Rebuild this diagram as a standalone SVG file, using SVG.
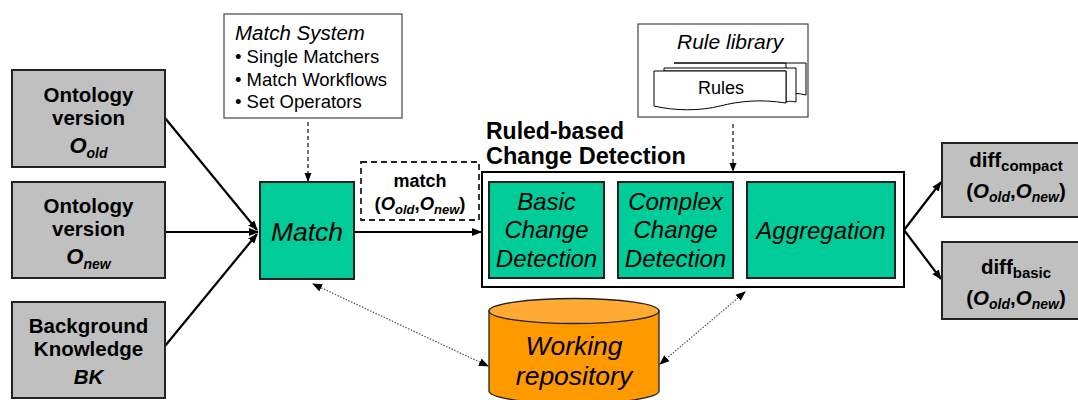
<svg xmlns="http://www.w3.org/2000/svg" width="1078" height="400" viewBox="0 0 1078 400">
<defs>
<style>
.gray{fill:#c0c0c0;stroke:#222;stroke-width:2}
.teal{fill:#00cc99;stroke:#222;stroke-width:2}
.wbox{fill:#fff;stroke:#444;stroke-width:1.2}
.t{font-family:"Liberation Sans",Arial,sans-serif;fill:#000}
.b{font-weight:bold}
.i{font-style:italic}
.line{stroke:#000;stroke-width:2.2;fill:none}
.dash{stroke:#222;stroke-width:1.3;stroke-dasharray:4 3;fill:none}
.dot{stroke:#555;stroke-width:1.2;stroke-dasharray:1.5 1.5;fill:none}
</style>
<marker id="ah" markerUnits="userSpaceOnUse" markerWidth="10" markerHeight="10" refX="9" refY="5" orient="auto"><path d="M0,1 L10,5 L0,9 z" fill="#000"/></marker>
<marker id="ahs" markerUnits="userSpaceOnUse" markerWidth="9" markerHeight="9" refX="8" refY="4.5" orient="auto"><path d="M0,1 L9,4.5 L0,8 z" fill="#000"/></marker>
<marker id="ahd" markerUnits="userSpaceOnUse" markerWidth="10" markerHeight="10" refX="9" refY="5" orient="auto-start-reverse"><path d="M0,1 L10,5 L0,9 z" fill="#000"/></marker>
</defs>

<g id="connectors">
<line class="line" x1="165" y1="118" x2="257" y2="230" marker-end="url(#ah)"/>
<line class="line" x1="165" y1="232" x2="258" y2="232" marker-end="url(#ah)"/>
<line class="line" x1="165" y1="346" x2="257" y2="234" marker-end="url(#ah)"/>
<line class="line" x1="354" y1="232" x2="481" y2="232" marker-end="url(#ah)"/>
<line class="line" x1="604" y1="232" x2="617" y2="232" stroke-width="1.5" marker-end="url(#ahs)"/>
<line class="line" x1="733" y1="232" x2="746" y2="232" stroke-width="1.5" marker-end="url(#ahs)"/>
<line class="line" x1="904" y1="230" x2="941" y2="182" marker-end="url(#ah)"/>
<line class="line" x1="904" y1="230" x2="941" y2="279" marker-end="url(#ah)"/>
<line class="dash" x1="308" y1="122" x2="308" y2="181" marker-end="url(#ahs)"/>
<line class="dash" x1="733" y1="124" x2="733" y2="171" marker-end="url(#ahs)"/>
<line class="dot" x1="313" y1="284" x2="488" y2="366" marker-start="url(#ahd)" marker-end="url(#ahd)"/>
<line class="dot" x1="745" y1="292" x2="660" y2="364" marker-start="url(#ahd)" marker-end="url(#ahd)"/>
</g>

<g id="ontology-old">
<rect class="gray" x="12" y="70" width="153" height="97"/>
<text class="t b" x="88.5" y="102" font-size="20.5" text-anchor="middle">Ontology</text>
<text class="t b" x="88.5" y="125" font-size="20.5" text-anchor="middle">version</text>
<text class="t b i" x="88.5" y="153" font-size="22" text-anchor="middle">O<tspan font-size="14" dy="5">old</tspan></text>
</g>

<g id="ontology-new">
<rect class="gray" x="12" y="182" width="153" height="96"/>
<text class="t b" x="88.5" y="213" font-size="20.5" text-anchor="middle">Ontology</text>
<text class="t b" x="88.5" y="236" font-size="20.5" text-anchor="middle">version</text>
<text class="t b i" x="88.5" y="264" font-size="22" text-anchor="middle">O<tspan font-size="14" dy="5">new</tspan></text>
</g>

<g id="background-knowledge">
<rect class="gray" x="12" y="302" width="153" height="96"/>
<text class="t b" x="88.5" y="333" font-size="20.5" text-anchor="middle">Background</text>
<text class="t b" x="88.5" y="356" font-size="20.5" text-anchor="middle">Knowledge</text>
<text class="t b i" x="88.5" y="384" font-size="20.5" text-anchor="middle">BK</text>
</g>

<g id="match-system">
<rect class="wbox" x="224" y="14" width="178" height="104"/>
<text class="t i" x="235" y="40" font-size="20.5">Match System</text>
<text class="t" x="235" y="63" font-size="18.5">• Single Matchers</text>
<text class="t" x="235" y="86" font-size="18.5">• Match Workflows</text>
<text class="t" x="235" y="108" font-size="18.5">• Set Operators</text>
</g>

<g id="match">
<rect class="teal" x="260" y="182" width="94" height="97"/>
<text class="t i" x="307" y="241" font-size="26.5" text-anchor="middle">Match</text>
</g>

<g id="match-result">
<rect x="361" y="162" width="118" height="58" fill="none" stroke="#222" stroke-width="1.8" stroke-dasharray="6 4"/>
<text class="t b" x="420" y="187" font-size="18" text-anchor="middle">match</text>
<text class="t b" x="420" y="210" font-size="18.5" text-anchor="middle">(<tspan class="i">O</tspan><tspan class="i" font-size="13" dy="4">old</tspan><tspan dy="-4">,</tspan><tspan class="i">O</tspan><tspan class="i" font-size="13" dy="4">new</tspan><tspan dy="-4">)</tspan></text>
</g>

<g id="rule-library">
<rect class="wbox" x="638" y="24" width="170" height="93"/>
<text class="t i" x="677" y="49" font-size="21">Rule library</text>
<path d="M674,63 H806 V95 C798,93 792,93 786,94 V63 Z" fill="#fff" stroke="#000" stroke-width="1"/>
<path d="M664,68 H796 V102 C792,101 789,101 786,102 V71 H664 Z" fill="#fff" stroke="#000" stroke-width="1"/>
<path d="M654,71 H786 V103 C760,99 740,101 720,106 C700,111 675,111 654,106 Z" fill="#fff" stroke="#000" stroke-width="1"/>
<text class="t" x="721" y="94" font-size="18" text-anchor="middle">Rules</text>
</g>

<g id="change-detection">
<rect x="482" y="172" width="422" height="115" fill="#fff" stroke="#000" stroke-width="2"/>
<text class="t b" x="486" y="139" font-size="23">Ruled-based</text>
<text class="t b" x="486" y="164" font-size="23.5">Change Detection</text>
</g>

<g id="basic-change-detection">
<rect class="teal" x="489" y="182" width="115" height="96"/>
<text class="t i" x="546.5" y="210" font-size="24" text-anchor="middle">Basic</text>
<text class="t i" x="546.5" y="238" font-size="24" text-anchor="middle">Change</text>
<text class="t i" x="546.5" y="267" font-size="24" text-anchor="middle">Detection</text>
</g>

<g id="complex-change-detection">
<rect class="teal" x="618" y="182" width="115" height="96"/>
<text class="t i" x="675.5" y="210" font-size="24" text-anchor="middle">Complex</text>
<text class="t i" x="675.5" y="238" font-size="24" text-anchor="middle">Change</text>
<text class="t i" x="675.5" y="267" font-size="24" text-anchor="middle">Detection</text>
</g>

<g id="aggregation">
<rect class="teal" x="747" y="182" width="148" height="96"/>
<text class="t i" x="821" y="239" font-size="24" text-anchor="middle">Aggregation</text>
</g>

<g id="diff-compact">
<rect class="gray" x="942" y="143" width="150" height="74"/>
<text class="t b" x="1016" y="167" font-size="20.5" text-anchor="middle">diff<tspan font-size="15" dy="4">compact</tspan></text>
<text class="t b" x="1016" y="198" font-size="20.5" text-anchor="middle">(<tspan class="i">O</tspan><tspan class="i" font-size="14" dy="4">old</tspan><tspan dy="-4">,</tspan><tspan class="i">O</tspan><tspan class="i" font-size="14" dy="4">new</tspan><tspan dy="-4">)</tspan></text>
</g>

<g id="diff-basic">
<rect class="gray" x="942" y="242" width="150" height="77"/>
<text class="t b" x="1016" y="274" font-size="20.5" text-anchor="middle">diff<tspan font-size="15" dy="4">basic</tspan></text>
<text class="t b" x="1016" y="305" font-size="20.5" text-anchor="middle">(<tspan class="i">O</tspan><tspan class="i" font-size="14" dy="4">old</tspan><tspan dy="-4">,</tspan><tspan class="i">O</tspan><tspan class="i" font-size="14" dy="4">new</tspan><tspan dy="-4">)</tspan></text>
</g>

<g id="working-repository">
<path d="M489,311 V391 A85,12.5 0 0 0 659,391 V311 Z" fill="#ff9900" stroke="#222" stroke-width="1.3"/>
<ellipse cx="574" cy="311" rx="85" ry="12.5" fill="#ffaa33" stroke="#222" stroke-width="1.3"/>
<text class="t i" x="574" y="355" font-size="26.5" text-anchor="middle">Working</text>
<text class="t i" x="574" y="385" font-size="26.5" text-anchor="middle">repository</text>
</g>
</svg>
